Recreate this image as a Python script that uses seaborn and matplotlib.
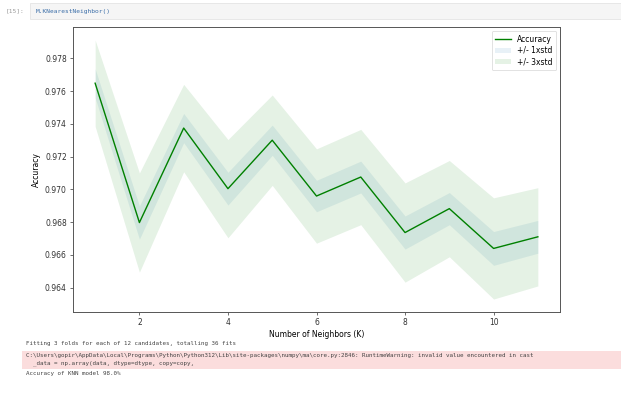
import numpy as np
import pandas as pd
import matplotlib
matplotlib.use("Agg")
import matplotlib.pyplot as plt
import seaborn as sns
from matplotlib.patches import Rectangle

# ---- data ----
neighbors = [1, 2, 3, 4, 5, 6, 7, 8, 9, 10, 11]
mean_acc = [0.97648, 0.96797, 0.97374, 0.97004, 0.97300, 0.96959,
            0.97075, 0.96736, 0.96882, 0.96639, 0.96710]
std_acc = [0.00088, 0.00101, 0.00089, 0.00100, 0.00092, 0.00096,
           0.00097, 0.00101, 0.00098, 0.00103, 0.00100]
x_ticks = [2, 4, 6, 8, 10]
y_ticks = [0.964, 0.966, 0.968, 0.970, 0.972, 0.974, 0.976, 0.978]
legend_labels = ["Accuracy", "+/- 1xstd", "+/- 3xstd"]
cell_prompt = "[15]:"
cell_code = "M.KNearestNeighbor()"
stdout_line = "Fitting 3 folds for each of 12 candidates, totalling 36 fits"
stderr_lines = [
    "C:\\Users\\gopir\\AppData\\Local\\Programs\\Python\\Python312\\Lib\\site-packages\\numpy\\ma\\core.py:2846: RuntimeWarning: invalid value encountered in cast",
    "  _data = np.array(data, dtype=dtype, copy=copy,",
]
final_line = "Accuracy of KNN model 98.0%"

df = pd.DataFrame({"K": neighbors, "acc": mean_acc, "std": std_acc})
m = df["acc"].to_numpy()
s = df["std"].to_numpy()

W, H = 621, 394
fig = plt.figure(figsize=(W / 100, H / 100), dpi=100)
fig.patch.set_facecolor("white")

def fx(px):
    return px / W

def fy(py):
    return 1 - py / H

# ---- notebook chrome ----
fig.patches.append(Rectangle((fx(30), fy(19)), fx(591), 16 / H, transform=fig.transFigure,
                             facecolor="#f5f5f5", edgecolor="#e0e0e0", lw=0.5, zorder=0))
fig.text(fx(6), fy(11), cell_prompt, fontsize=4.5, color="#9a9a9a", va="center",
         family="DejaVu Sans Mono")
fig.text(fx(36), fy(11), cell_code, fontsize=4.5, color="#3b6ea8", va="center",
         family="DejaVu Sans Mono")

fig.text(fx(26), fy(343), stdout_line, fontsize=4.2, color="#444444", va="center",
         family="DejaVu Sans Mono")
fig.patches.append(Rectangle((fx(22), fy(369)), fx(599), 18 / H, transform=fig.transFigure,
                             facecolor="#fbdddd", edgecolor="none", zorder=0))
fig.text(fx(26), fy(356), stderr_lines[0], fontsize=4.2, color="#444444", va="center",
         family="DejaVu Sans Mono")
fig.text(fx(26), fy(363.5), stderr_lines[1], fontsize=4.2, color="#444444", va="center",
         family="DejaVu Sans Mono")
fig.text(fx(26), fy(373), final_line, fontsize=4.2, color="#444444", va="center",
         family="DejaVu Sans Mono")

# ---- chart ----
ax = fig.add_axes([fx(73), fy(312), (560 - 73) / W, (312 - 27) / H])
sns.lineplot(data=df, x="K", y="acc", color="green", lw=1.0, ax=ax,
             label=legend_labels[0])
ax.fill_between(df["K"], m - s, m + s, alpha=0.10, color="#1f77b4", lw=0,
                label=legend_labels[1])
ax.fill_between(df["K"], m - 3 * s, m + 3 * s, alpha=0.10, color="green", lw=0,
                label=legend_labels[2])

ax.set_xticks(x_ticks)
ax.set_yticks(y_ticks)
ax.set_yticklabels([f"{v:.3f}" for v in y_ticks])
ax.set_xlabel("Number of Neighbors (K)", fontsize=5.5, labelpad=2)
ax.set_ylabel("Accuracy", fontsize=5.5, labelpad=3)
ax.tick_params(labelsize=5.5, length=2.5, width=0.5, pad=2, colors="#333333")
for sp in ax.spines.values():
    sp.set_linewidth(0.7)
    sp.set_color("#555555")
leg = ax.legend(loc="upper right", fontsize=5.5, frameon=True, borderpad=0.5,
                handlelength=2.0, labelspacing=0.3)
leg.get_frame().set_linewidth(0.5)

fig.savefig("out.png", dpi=100, facecolor="white")
